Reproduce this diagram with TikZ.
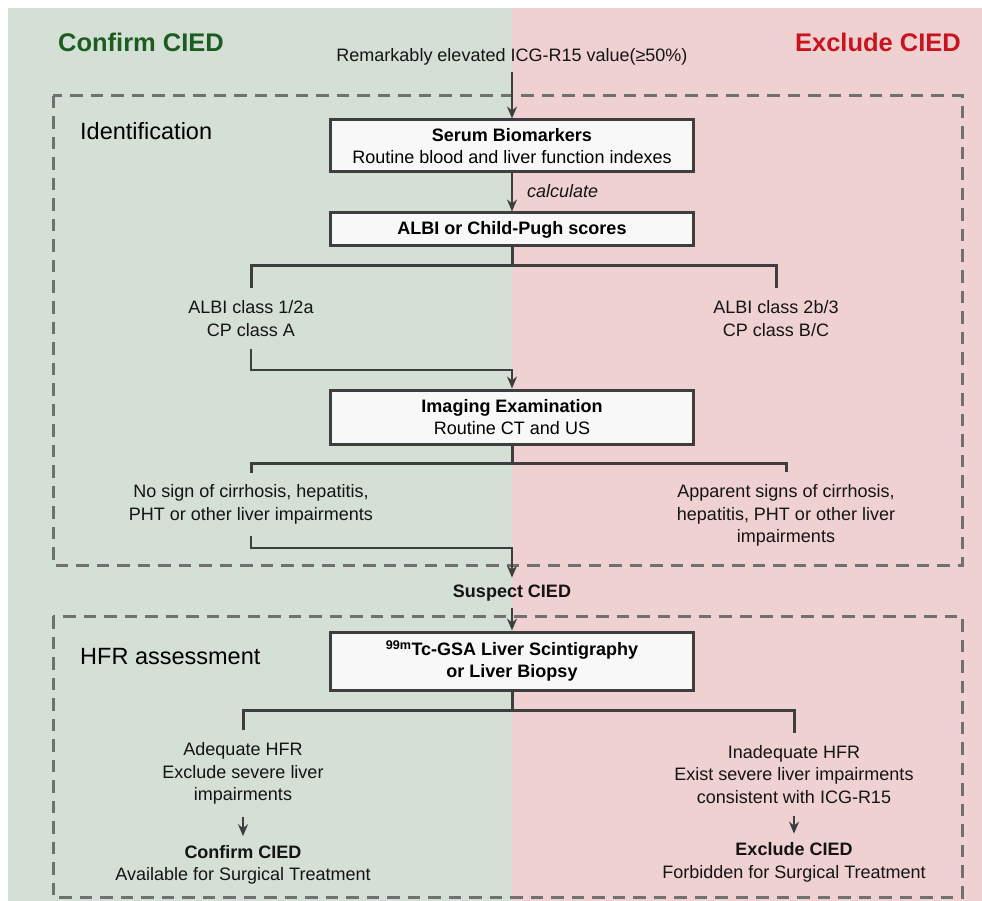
\documentclass[tikz,border=0pt]{standalone}
\usepackage{fontspec}
\setmainfont{Liberation Sans}
\usetikzlibrary{arrows.meta}
\definecolor{bggreen}{HTML}{D4DFD5}
\definecolor{bgred}{HTML}{F0D1D2}
\definecolor{ttgreen}{HTML}{1D5C20}
\definecolor{ttred}{HTML}{C8141E}
\definecolor{ln}{HTML}{3E3E3E}
\definecolor{dsh}{HTML}{707070}
\definecolor{boxfill}{HTML}{F8F8F8}
\begin{document}
\begin{tikzpicture}[x=1pt,y=-1pt,
 txt/.style={font=\fontsize{18}{22.5}\selectfont, align=center, inner xsep=2pt, inner ysep=12pt, text=black!92},
 stagebox/.style={draw=ln, line width=3pt, fill=boxfill, minimum width=363pt, inner sep=0pt, align=center, font=\fontsize{18}{22.5}\selectfont},
 link/.style={draw=ln, line width=3pt},
 arr/.style={draw=ln, line width=2.9pt, -{Stealth[length=12pt,width=10pt,inset=4pt]}},
 phase/.style={draw=dsh, line width=3pt, dash pattern=on 12.5pt off 8pt},
 heading/.style={font=\fontsize{25.5}{30}\selectfont\bfseries},
 sectlabel/.style={font=\fontsize{23.5}{28}\selectfont, anchor=west, inner sep=0pt}
]
\useasboundingbox (0,0) rectangle (982,901);
\fill[white] (0,0) rectangle (982,901);
\fill[bggreen] (8,8) rectangle (512,901);
\fill[bgred] (512,8) rectangle (982,901);

% phases
\draw[phase] (53,96) rectangle (962,565);
\draw[phase] (53,616) rectangle (962,897);

% headings
\node[heading, text=ttgreen] (hl) at (141,42) {Confirm CIED};
\node[heading, text=ttred] (hr) at (878,42) {Exclude CIED};
\node[txt, inner ysep=6pt] (top) at (512,57) {Remarkably elevated ICG-R15 value(≥50\%)};

\node[sectlabel] (idl) at (80,131) {Identification};
\node[sectlabel] (hfrl) at (80,657) {HFR assessment};

% boxes
\node[stagebox, minimum height=52pt] (serum) at (512,146) {\textbf{Serum Biomarkers}\\Routine blood and liver function indexes};
\node[stagebox, minimum height=33pt] (albi) at (512,229.5) {\textbf{ALBI or Child-Pugh scores}};
\node[stagebox, minimum height=54pt] (img) at (512,417) {\textbf{Imaging Examination}\\Routine CT and US};
\node[stagebox, minimum height=58pt] (tc) at (512,661) {\textbf{\textsuperscript{99m}Tc-GSA Liver Scintigraphy}\\\textbf{or Liver Biopsy}};

% texts
\node[txt, inner sep=0pt, anchor=west, font=\fontsize{18}{22.5}\selectfont\itshape] (calc) at (527,191) {calculate};
\node[txt] (albiL) at (251,318.5) {ALBI class 1/2a\\CP class A};
\node[txt] (albiR) at (776,318.5) {ALBI class 2b/3\\CP class B/C};
\node[txt] (nosign) at (251,504.5) {No sign of cirrhosis, hepatitis,\\PHT or other liver impairments};
\node[txt] (aps) at (786,515.5) {Apparent signs of cirrhosis,\\hepatitis, PHT or other liver\\impairments};
\node[txt, font=\fontsize{18}{22.5}\selectfont\bfseries, inner ysep=7pt] (suspect) at (512,593) {Suspect CIED};
\node[txt] (adeq) at (243,773.5) {Adequate HFR\\Exclude severe liver\\impairments};
\node[txt] (inadeq) at (794,774.5) {Inadequate HFR\\Exist severe liver impairments\\consistent with ICG-R15};
\node[txt, inner ysep=9pt] (confL) at (243,865) {\textbf{Confirm CIED}\\Available for Surgical Treatment};
\node[txt, inner ysep=9pt] (exclR) at (794,862.5) {\textbf{Exclude CIED}\\Forbidden for Surgical Treatment};

% connectors
\draw[arr] (top.south) -- (serum.north);
\draw[arr] (serum.south) -- (albi.north);
\draw[link] (albi.south) -- (albi.south |- 0,266);
\draw[link] (albiL.north) -- (albiL.north |- 0,266) -- (albiR.north |- 0,266) -- (albiR.north);
\draw[arr] (albiL.south) -- (albiL.south |- 0,370) -| (img.north);
\draw[link] (img.south) -- (img.south |- 0,463);
\draw[link] (nosign.north) -- (nosign.north |- 0,463) -- (aps.north |- 0,463) -- (aps.north);
\draw[arr] (nosign.south) -- (nosign.south |- 0,548) -| (suspect.north);
\draw[arr] (suspect.south) -- (tc.north);
\draw[link] (tc.south) -- (tc.south |- 0,710);
\draw[link] (adeq.north) -- (adeq.north |- 0,710) -- (inadeq.north |- 0,710) -- (inadeq.north);
\draw[arr] (adeq.south) -- (confL.north);
\draw[arr] (inadeq.south) -- (exclR.north);
\end{tikzpicture}
\end{document}
